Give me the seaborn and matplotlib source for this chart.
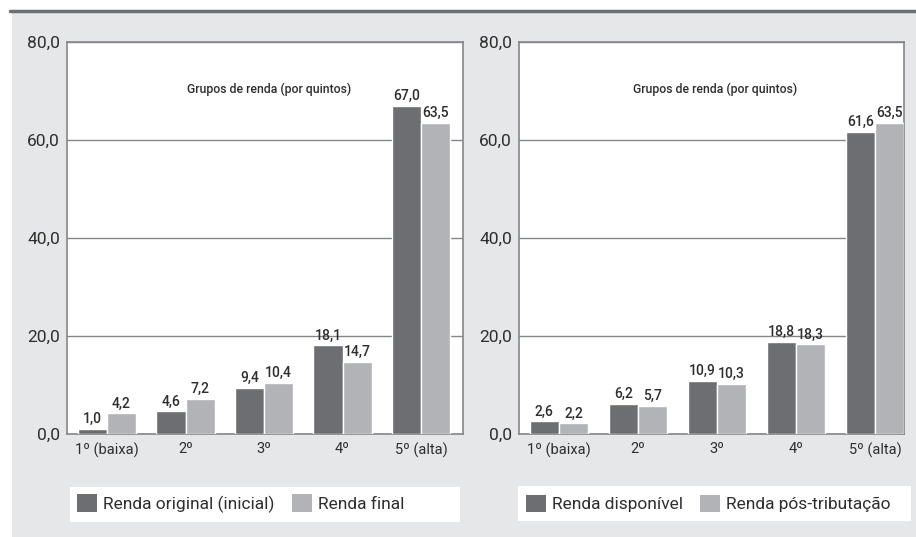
import matplotlib
matplotlib.use("Agg")
import matplotlib.pyplot as plt
from matplotlib.patches import Rectangle, Patch
import seaborn as sns
import pandas as pd

# Income quintiles
categories = ["1º (baixa)", "2º", "3º", "4º", "5º (alta)"]

# Left panel: original vs final income share (%)
left_series = ["Renda original (inicial)", "Renda final"]
renda_original = [1.0, 4.6, 9.4, 18.1, 67.0]
renda_final = [4.2, 7.2, 10.4, 14.7, 63.5]

# Right panel: disposable vs post-tax income share (%)
right_series = ["Renda disponível", "Renda pós-tributação"]
renda_disponivel = [2.6, 6.2, 10.9, 18.8, 61.6]
renda_pos_trib = [2.2, 5.7, 10.3, 18.3, 63.5]

y_ticks = [0, 20, 40, 60, 80]
annotation = "Grupos de renda (por quintos)"

DARK = "#6d6e71"
LIGHT = "#b1b3b6"
GRID = "#85868a"
TEXT = "#2e2e2e"
PANEL_BG = "#e6e7e8"

sns.set_theme(style="white")
plt.rcParams["font.family"] = ["Roboto", "DejaVu Sans"]
plt.rcParams["text.color"] = TEXT
plt.rcParams["axes.labelcolor"] = TEXT
plt.rcParams["xtick.color"] = TEXT
plt.rcParams["ytick.color"] = TEXT

W, H = 916, 537
fig = plt.figure(figsize=(W / 100, H / 100), dpi=100, facecolor="white")

# grey page background and the dark rule on top
fig.patches.append(Rectangle((12 / W, 0), 1, 1 - 12.5 / H, transform=fig.transFigure,
                             facecolor=PANEL_BG, edgecolor="none", zorder=-10))
fig.lines.append(plt.Line2D([10 / W, 1], [1 - 11 / H, 1 - 11 / H], transform=fig.transFigure,
                            color="#6d6e71", lw=2.5, zorder=-5))


def fmt(v):
    return f"{v:.1f}".replace(".", ",")


def draw_panel(rect, xlim, series, a, b, legend_rect, legend_x):
    ax = fig.add_axes(rect)
    df = pd.DataFrame({
        "grupo": categories * 2,
        "serie": [series[0]] * len(categories) + [series[1]] * len(categories),
        "valor": list(a) + list(b),
    })
    sns.barplot(data=df, x="grupo", y="valor", hue="serie", order=categories,
                hue_order=series, palette=[DARK, LIGHT], width=0.74,
                saturation=1, ax=ax, legend=False, zorder=3)
    for cont, vals in zip(ax.containers, [a, b]):
        ax.bar_label(cont, labels=[fmt(v) for v in vals], padding=2,
                     fontsize=10, color=TEXT, fontweight="medium")
    ax.set_ylim(0, 80)
    ax.set_xlim(*xlim)
    ax.set_yticks(y_ticks)
    ax.set_yticklabels([fmt(t) for t in y_ticks], fontsize=12.5)
    ax.tick_params(axis="x", labelsize=10.5, length=0, pad=6)
    ax.tick_params(axis="y", length=0, pad=5)
    ax.set_xlabel("")
    ax.set_ylabel("")
    ax.set_facecolor("white")
    ax.yaxis.grid(True, color=GRID, lw=1.0, zorder=0)
    ax.set_axisbelow(True)
    for s in ax.spines.values():
        s.set_visible(True)
        s.set_color(GRID)
        s.set_linewidth(1.2)
    ax.text(0.51, 0.88, annotation, transform=ax.transAxes, ha="center",
            va="center", fontsize=8.8, color=TEXT, fontweight="medium")

    # legend on a white strip
    fig.patches.append(Rectangle((legend_rect[0] / W, 1 - legend_rect[3] / H),
                                 (legend_rect[2] - legend_rect[0]) / W,
                                 (legend_rect[3] - legend_rect[1]) / H,
                                 transform=fig.transFigure, facecolor="white",
                                 edgecolor="none", zorder=-4))
    handles = [Patch(facecolor=DARK, edgecolor="none"),
               Patch(facecolor=LIGHT, edgecolor="none")]
    fig.legend(handles, series, loc="center left",
               bbox_to_anchor=(legend_x / W, 1 - 503.5 / H), ncol=2,
               frameon=False, fontsize=12.5, handlelength=1.15, handleheight=1.15,
               handletextpad=0.35, columnspacing=1.0, borderaxespad=0,
               borderpad=0)
    return ax


draw_panel([67 / W, (H - 434) / H, (463 - 67) / W, (434 - 42) / H],
           (-0.51, 4.535), left_series, renda_original, renda_final,
           (70, 487, 460, 522), 77)
draw_panel([519 / W, (H - 434) / H, (904 - 519) / W, (434 - 42) / H],
           (-0.506, 4.367), right_series, renda_disponivel, renda_pos_trib,
           (518, 486, 911, 521), 526)

fig.savefig("out.png", dpi=100, facecolor=fig.get_facecolor())
